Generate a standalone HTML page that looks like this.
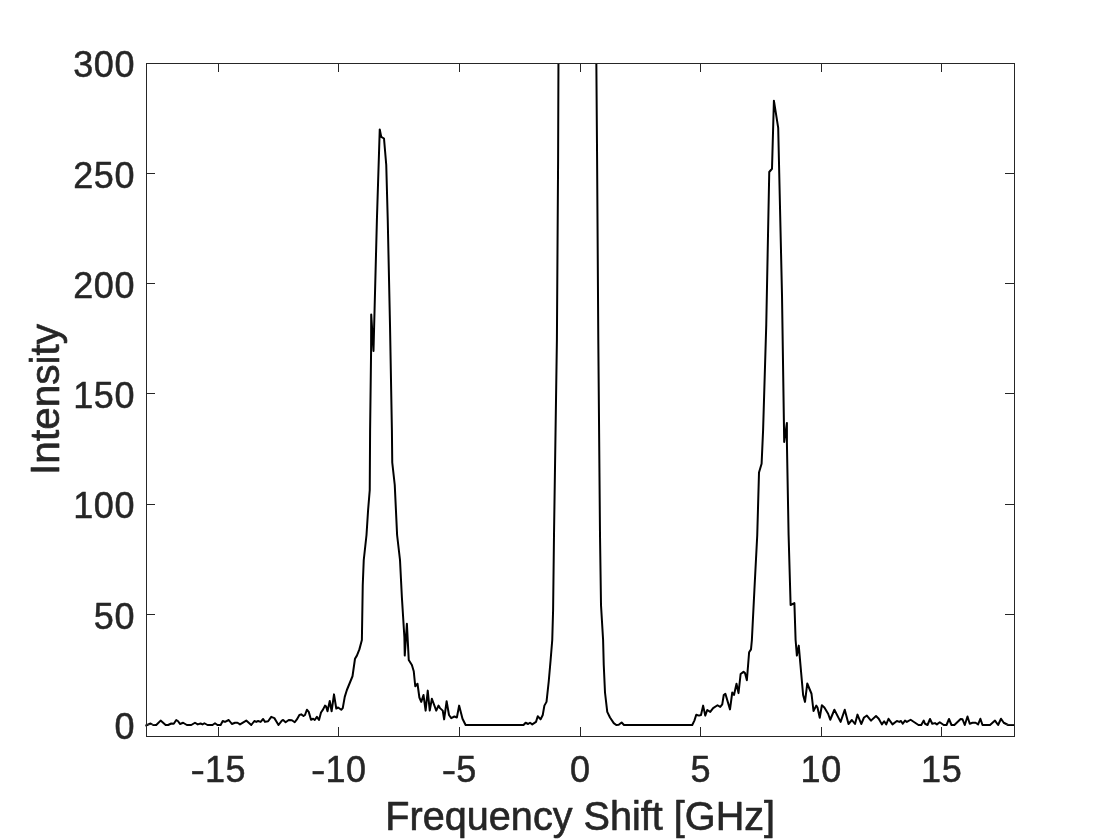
<!DOCTYPE html>
<html><head><meta charset="utf-8"><title>Spectrum</title>
<style>
html,body{margin:0;padding:0;background:#fff;}
body{width:1120px;height:840px;overflow:hidden;}
svg{display:block;}
text{font-family:"Liberation Sans",Arial,Helvetica,sans-serif;fill:#262626;stroke:#262626;stroke-width:0.5px;stroke-linejoin:round;}
</style></head><body>
<svg width="1120" height="840" viewBox="0 0 1120 840">
<rect width="1120" height="840" fill="#fff"/>
<defs><clipPath id="c"><rect x="145.3" y="63.5" width="869.7" height="673.0"/></clipPath></defs>
<g clip-path="url(#c)"><path d="M145.00 725.50 L146.50 725.25 L150.62 723.50 L153.12 725.00 L156.25 725.00 L160.62 720.62 L165.62 725.00 L168.12 725.00 L171.25 723.50 L173.75 723.75 L176.25 720.00 L178.12 721.25 L180.00 724.00 L183.12 722.75 L186.88 725.00 L191.25 725.00 L195.00 722.75 L197.75 724.38 L200.62 723.50 L202.50 724.38 L204.38 723.25 L207.50 725.00 L212.50 725.00 L215.00 723.25 L217.50 725.00 L220.62 725.00 L222.75 721.00 L225.00 721.88 L228.75 720.00 L231.88 724.00 L235.00 722.75 L237.50 722.75 L240.00 724.38 L246.25 720.62 L251.25 725.00 L254.38 721.00 L256.25 721.88 L258.12 721.00 L260.62 721.88 L263.12 719.00 L265.00 721.88 L268.12 721.25 L271.25 716.88 L274.38 718.12 L276.25 721.25 L278.50 725.00 L281.88 720.62 L283.12 720.00 L285.62 722.25 L288.75 720.00 L291.88 720.25 L294.75 722.25 L296.88 719.38 L299.38 715.00 L301.25 714.38 L303.50 716.00 L305.00 715.00 L306.88 709.75 L308.75 711.88 L311.00 719.75 L313.12 718.75 L314.75 720.00 L316.88 716.88 L319.00 720.00 L321.00 712.50 L323.12 709.38 L325.00 705.62 L326.00 706.25 L327.50 711.25 L329.75 701.00 L331.62 711.25 L334.00 694.38 L336.25 708.50 L338.12 707.50 L341.25 709.75 L342.75 708.12 L344.75 696.88 L346.88 690.00 L352.50 676.25 L355.00 658.75 L356.88 655.62 L359.38 649.38 L361.88 640.00 L362.75 585.00 L363.75 560.00 L366.50 535.00 L368.10 510.00 L369.75 490.00 L370.10 430.00 L371.10 350.00 L371.20 314.40 L373.50 351.00 L376.90 220.00 L379.75 129.40 L381.25 136.90 L384.00 138.50 L386.25 165.00 L387.75 220.00 L390.00 325.00 L391.90 430.00 L392.25 462.50 L394.75 485.00 L397.10 535.00 L400.00 560.00 L401.90 597.50 L404.40 637.50 L404.75 655.60 L406.90 623.75 L408.75 660.00 L411.88 665.00 L413.75 671.25 L415.25 686.25 L417.50 683.75 L419.38 697.50 L421.25 701.88 L423.50 695.00 L425.62 710.62 L427.75 690.62 L429.75 710.62 L431.88 698.75 L436.25 710.62 L438.50 705.62 L440.00 708.12 L442.75 710.62 L444.12 719.38 L446.62 701.25 L449.00 715.00 L451.25 718.12 L454.38 716.50 L456.88 717.50 L459.12 705.62 L462.50 718.75 L465.62 725.00 L523.50 725.00 L525.62 722.75 L528.12 724.00 L530.00 722.75 L532.25 724.38 L536.00 721.88 L537.75 716.25 L540.62 719.38 L542.75 715.00 L544.38 705.62 L546.50 701.88 L548.75 681.25 L550.62 660.00 L552.25 640.00 L553.10 610.00 L554.00 535.00 L556.90 340.00 L558.10 160.00 L558.50 50.00 L596.25 50.00 L597.10 160.00 L598.30 340.00 L600.00 535.00 L601.00 605.00 L603.10 640.00 L603.75 665.00 L605.00 692.50 L607.25 711.88 L610.00 717.50 L613.75 723.12 L616.25 725.00 L618.75 724.75 L621.62 722.50 L624.00 725.00 L692.25 725.00 L694.38 720.62 L696.25 714.75 L699.00 715.62 L701.00 715.00 L703.12 705.62 L705.25 715.62 L707.25 710.00 L710.25 711.88 L713.12 708.12 L717.50 705.25 L720.25 706.88 L722.25 704.38 L723.75 695.00 L725.38 693.75 L730.00 709.38 L732.25 692.50 L734.00 695.00 L736.50 683.75 L738.50 693.12 L740.62 674.00 L743.50 671.88 L745.00 673.12 L746.88 680.25 L749.12 652.25 L751.00 649.38 L751.88 640.00 L754.40 590.00 L757.25 535.00 L759.00 472.50 L761.60 463.75 L763.10 430.00 L766.25 325.00 L769.25 172.00 L772.00 168.75 L773.90 100.70 L778.20 127.90 L782.00 295.00 L784.20 441.90 L786.90 423.00 L786.90 442.50 L788.60 535.00 L790.60 605.00 L794.40 603.10 L795.60 640.00 L796.88 655.62 L798.75 645.62 L803.12 695.00 L805.00 701.88 L807.25 683.50 L811.50 693.75 L813.50 711.00 L816.25 705.62 L817.50 707.50 L819.75 717.75 L821.88 705.25 L824.38 707.50 L828.12 713.75 L830.25 719.75 L834.38 709.75 L840.62 721.88 L844.75 709.75 L848.50 724.00 L851.88 720.00 L855.00 724.00 L857.50 714.62 L861.25 724.00 L864.00 717.50 L866.88 715.62 L871.00 720.62 L876.00 716.00 L878.75 718.75 L881.88 724.38 L884.12 721.25 L886.25 724.38 L888.50 718.75 L892.50 724.38 L896.88 721.00 L899.38 721.88 L901.00 721.00 L902.75 723.75 L905.00 720.62 L906.88 721.88 L910.62 719.75 L914.38 722.25 L918.50 725.00 L921.25 725.00 L923.75 720.62 L925.00 723.75 L927.50 725.00 L930.00 719.00 L932.25 723.75 L935.00 723.12 L936.88 724.38 L939.75 722.25 L943.75 725.00 L946.50 725.00 L949.00 719.00 L951.50 725.00 L954.38 725.00 L960.62 719.00 L962.50 719.25 L964.75 725.00 L967.50 716.50 L969.75 723.75 L972.50 722.75 L975.62 722.75 L978.12 724.38 L980.38 718.75 L982.50 725.00 L990.00 725.00 L995.00 720.62 L998.12 725.00 L1001.00 718.75 L1003.75 722.75 L1008.12 725.00 L1014.62 725.00" fill="none" stroke="#000" stroke-width="2" stroke-linejoin="round" stroke-linecap="butt"/></g>
<g fill="none" stroke="#262626" stroke-width="1" shape-rendering="crispEdges">
<rect x="146.5" y="63.5" width="868.0" height="673.0"/>
<path d="M218.5 736.5V727.0M218.5 63.5V72.0"/><path d="M338.5 736.5V727.0M338.5 63.5V72.0"/><path d="M459.5 736.5V727.0M459.5 63.5V72.0"/><path d="M580.5 736.5V727.0M580.5 63.5V72.0"/><path d="M700.5 736.5V727.0M700.5 63.5V72.0"/><path d="M821.5 736.5V727.0M821.5 63.5V72.0"/><path d="M941.5 736.5V727.0M941.5 63.5V72.0"/><path d="M146.5 63.5H155.0M1014.5 63.5H1005.0"/><path d="M146.5 173.5H155.0M1014.5 173.5H1005.0"/><path d="M146.5 283.5H155.0M1014.5 283.5H1005.0"/><path d="M146.5 393.5H155.0M1014.5 393.5H1005.0"/><path d="M146.5 504.5H155.0M1014.5 504.5H1005.0"/><path d="M146.5 614.5H155.0M1014.5 614.5H1005.0"/><path d="M146.5 724.5H155.0M1014.5 724.5H1005.0"/>
</g>
<g font-size="36px" letter-spacing="0.6"><text transform="translate(190.58,782.3) scale(1.2,1)">-</text><text x="204.93" y="782.3">15</text><text transform="translate(311.03,782.3) scale(1.2,1)">-</text><text x="325.38" y="782.3">10</text><text transform="translate(441.79,782.3) scale(1.2,1)">-</text><text x="456.14" y="782.3">5</text><text x="580.30" y="782.3" text-anchor="middle">0</text><text x="700.75" y="782.3" text-anchor="middle">5</text><text x="821.20" y="782.3" text-anchor="middle">10</text><text x="941.65" y="782.3" text-anchor="middle">15</text><text x="135.1" y="77.4" text-anchor="end">300</text><text x="135.1" y="187.7" text-anchor="end">250</text><text x="135.1" y="297.9" text-anchor="end">200</text><text x="135.1" y="408.1" text-anchor="end">150</text><text x="135.1" y="518.4" text-anchor="end">100</text><text x="135.1" y="628.6" text-anchor="end">50</text><text x="135.1" y="738.9" text-anchor="end">0</text></g>
<text transform="translate(580.2,830.2) scale(0.976,1)" font-size="40.6px" style="stroke-width:0.65px" text-anchor="middle">Frequency Shift [GHz]</text>
<text transform="translate(58.9,399.4) rotate(-90)" font-size="40.6px" style="stroke-width:0.65px" text-anchor="middle">Intensity</text>
</svg>
</body></html>
